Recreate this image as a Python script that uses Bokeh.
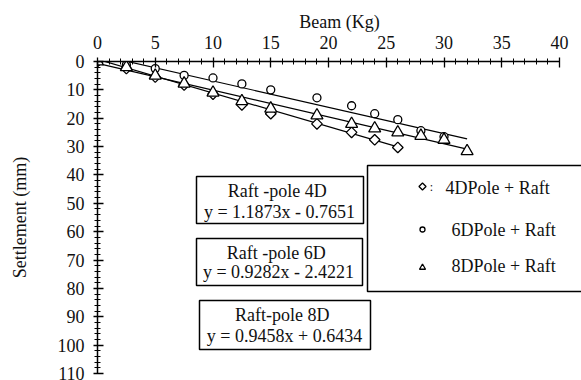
import numpy as np
from bokeh.plotting import figure
from bokeh.models import Range1d, Title, FixedTicker
from bokeh.core.properties import value
from bokeh.embed import file_html
from bokeh.resources import INLINE

# ---- data ----
beam_4d = [0, 2.5, 5, 7.5, 10, 12.5, 15, 19, 22, 24, 26]
settle_4d = [0, 2.5, 5.5, 8.3, 11.5, 15.3, 18.4, 22.0, 25.0, 27.6, 30.3]
beam_6d = [0, 2.5, 5, 7.5, 10, 12.5, 15, 19, 22, 24, 26, 28, 30]
settle_6d = [0, 1.2, 2.5, 4.9, 5.8, 7.9, 10.0, 12.8, 15.6, 18.4, 20.5, 24.4, 26.5]
beam_8d = [0, 2.5, 5, 7.5, 10, 12.5, 15, 19, 22, 24, 26, 28, 30, 32]
settle_8d = [0, 2.0, 5.0, 7.8, 11.0, 14.0, 16.6, 19.0, 22.0, 23.6, 25.0, 26.2, 27.6, 31.6]

series_names = ["4DPole + Raft", "6DPole + Raft", "8DPole + Raft"]
fit_titles = ["Raft -pole  4D", "Raft -pole  6D", "Raft-pole  8D"]
fit_slopes = [1.1873, 0.9282, 0.9458]
fit_intercepts = [-0.7651, -2.4221, 0.6434]
fit_x_end = [26, 32, 32]

x_ticks = [0, 5, 10, 15, 20, 25, 30, 35, 40]
y_ticks = [0, 10, 20, 30, 40, 50, 60, 70, 80, 90, 100, 110]

FONT = "Liberation Serif"
FS = "18px"
INK = "#111111"

# ---- frame geometry (picture px) for placing annotation boxes ----
W, H = 581, 380
FX0, SX = 97.0, 11.55
FY0, SY = 61.0, (373.0 - 61.0) / 110.0


def dx(px):
    return (px - FX0) / SX


def dy(py):
    return (py - FY0) / SY


p = figure(width=W, height=H,
           x_range=Range1d(0, (W - FX0) / SX), y_range=Range1d(110, 0),
           x_axis_location="above", output_backend="svg", toolbar_location=None,
           min_border_left=int(FX0), min_border_right=0, min_border_top=int(FY0),
           min_border_bottom=H - 373)
p.outline_line_color = None
p.grid.visible = False
p.background_fill_color = "white"
p.border_fill_color = "white"

xa = p.xaxis[0]
xa.bounds = (0, 40)
xa.ticker = FixedTicker(ticks=x_ticks, minor_ticks=list(range(0, 41)))
ya = p.yaxis[0]
ya.ticker = FixedTicker(ticks=y_ticks, minor_ticks=list(range(0, 111, 2)))
for ax in (xa, ya):
    ax.axis_line_color = "black"
    ax.axis_line_width = 1.5
    ax.major_tick_line_color = "black"
    ax.major_tick_line_width = 1.3
    ax.minor_tick_line_color = "black"
    ax.minor_tick_line_width = 1.0
    ax.major_tick_out = 4
    ax.major_tick_in = 6
    ax.minor_tick_out = 3
    ax.minor_tick_in = 3
    ax.major_label_text_font = FONT
    ax.major_label_text_font_size = FS
    ax.major_label_text_color = INK
    ax.major_label_standoff = 9
xa.major_label_standoff = 9

ya.axis_label = "Settlement (mm)"
ya.axis_label_text_font = FONT
ya.axis_label_text_font_size = FS
ya.axis_label_text_font_style = "normal"
ya.axis_label_text_color = INK
ya.axis_label_standoff = 25

p.add_layout(Title(text="Beam (Kg)", align="center", offset=-29, text_font=FONT,
                   text_font_size=FS, text_font_style="normal", text_color=INK,
                   standoff=2), "above")

# ---- trend lines ----
for m, b, xe in zip(fit_slopes, fit_intercepts, fit_x_end):
    xs = np.array([0.0, xe])
    p.line(xs, m * xs + b, line_color="black", line_width=1.2)

# ---- markers ----
p.scatter(beam_6d, settle_6d, marker="circle", size=8, fill_color="white",
          line_color="black", line_width=1.3)
p.scatter(beam_4d, settle_4d, marker="square", angle=np.pi / 4, size=7.5,
          fill_color="white", line_color="black", line_width=1.3)
p.scatter(beam_8d, settle_8d, marker="triangle", size=12, fill_color="white",
          line_color="black", line_width=1.3)

# ---- equation boxes ----
boxes = [(196, 363, 176, 223), (196, 362, 238, 285), (199, 370, 300, 349)]
line_y = [(190, 211), (252, 271), (314, 335)]
line_x = [279, 278, 284]
for (l, r, t, bt), (y1, y2), xc, ttl, m, b in zip(boxes, line_y, line_x, fit_titles,
                                                  fit_slopes, fit_intercepts):
    p.quad(left=dx(l), right=dx(r), top=dy(t), bottom=dy(bt), fill_color="white",
           line_color="black", line_width=1.5)
    sign = "+" if b >= 0 else "-"
    eq = f"y = {m:.4f}x {sign} {abs(b):.4f}"
    p.text(x=[dx(xc), dx(xc)], y=[dy(y1), dy(y2)], text=[ttl, eq],
           text_font=value(FONT), text_font_size=FS, text_align="center",
           text_baseline="middle", text_color=INK)

# ---- legend box ----
p.quad(left=dx(367), right=dx(640), top=dy(165), bottom=dy(291), fill_color="white",
       line_color="black", line_width=1.5)
leg_y = [186, 229, 267]
leg_tx = [445, 451, 451]
p.scatter([dx(422)], [dy(leg_y[0])], marker="square", angle=np.pi / 4, size=5,
          fill_color="white", line_color="black", line_width=1.3)
p.scatter([dx(422)], [dy(leg_y[1])], marker="circle", size=5, fill_color="white",
          line_color="black", line_width=1.3)
p.scatter([dx(422)], [dy(leg_y[2])], marker="triangle", size=6, fill_color="white",
          line_color="black", line_width=1.3)
p.text(x=[dx(431)], y=[dy(186)], text=[":"], text_font=value(FONT), text_font_size="12px",
       text_align="center", text_baseline="middle", text_color=INK)
p.text(x=[dx(v) for v in leg_tx], y=[dy(v) for v in (187.5, 229.5, 265.5)],
       text=series_names, text_font=value(FONT), text_font_size=FS, text_align="left",
       text_baseline="middle", text_color=INK)

open("out.html", "w").write(file_html(p, INLINE))
